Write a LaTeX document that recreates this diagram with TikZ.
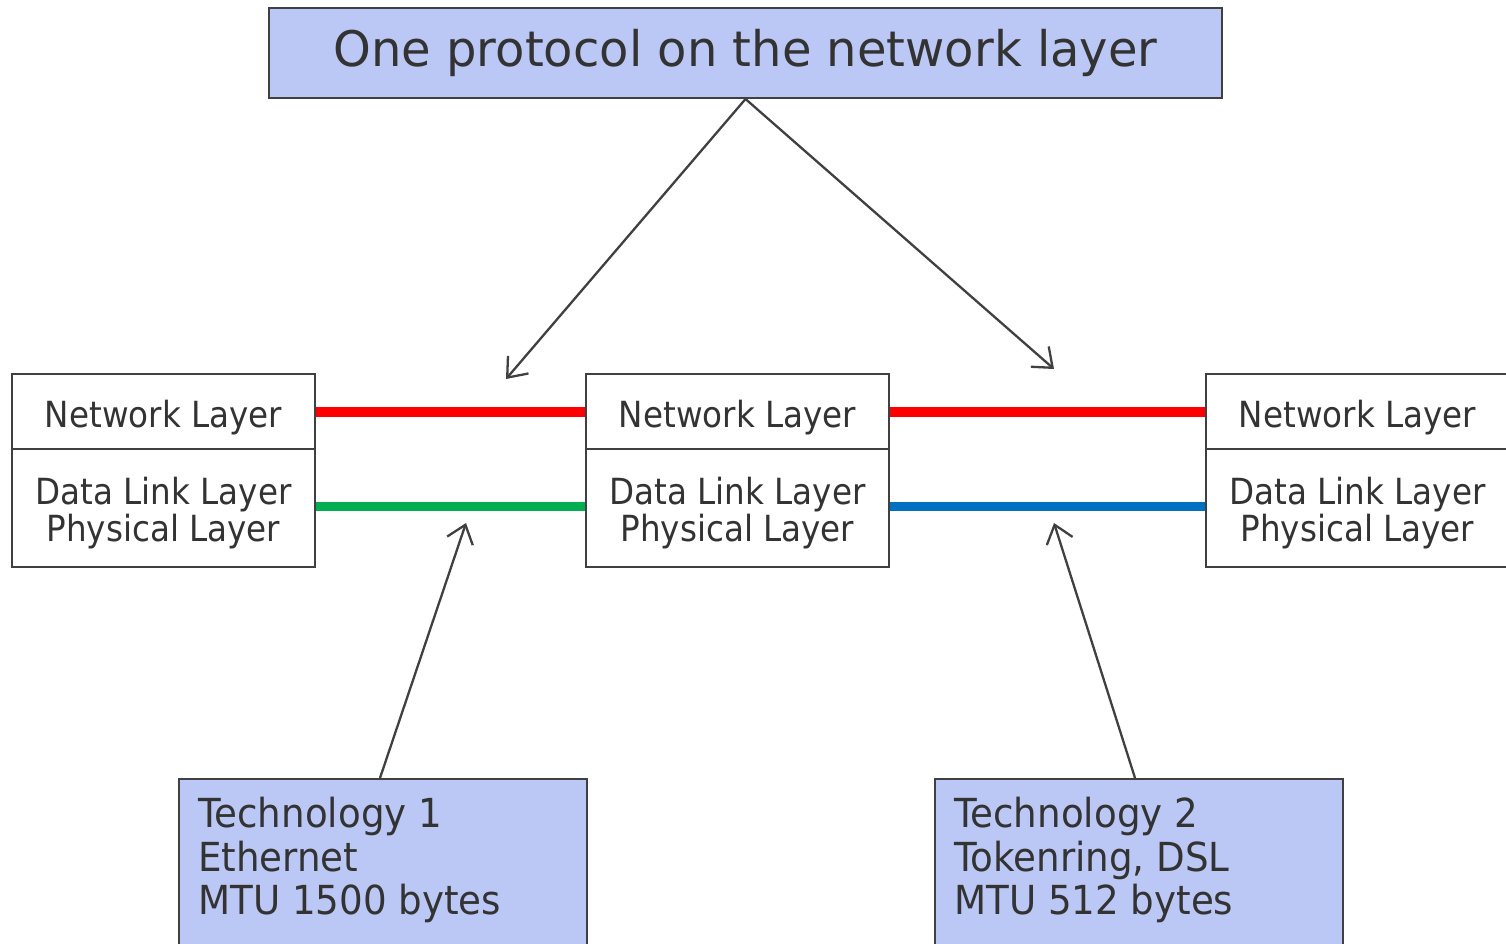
\documentclass[tikz,border=0pt]{standalone}
\usepackage{fontspec}
\setmainfont{DejaVu Sans}
\newfontfamily\stackfont[FakeStretch=0.905]{DejaVu Sans}
\newfontfamily\techfont[FakeStretch=0.93]{DejaVu Sans}
\newfontfamily\titlefont[FakeStretch=0.98]{DejaVu Sans}
\usetikzlibrary{arrows.meta}
\definecolor{fillb}{RGB}{187,199,244}
\definecolor{ink}{RGB}{51,51,51}
\definecolor{edge}{RGB}{64,64,64}
\definecolor{lnred}{RGB}{255,0,0}
\definecolor{lngreen}{RGB}{0,176,80}
\definecolor{lnblue}{RGB}{0,112,192}
\newcommand{\firststrut}{\rule{0pt}{38pt}}
\begin{document}
\begin{tikzpicture}[x=1pt,y=-1pt,
  every node/.style={text=ink},
  titlebox/.style={draw=edge, line width=2pt, fill=fillb, minimum width=953pt, minimum height=90pt, font=\titlefont\fontsize{49}{56}\selectfont, inner sep=0pt},
  netbox/.style={draw=edge, line width=2pt, fill=white, minimum width=303pt, minimum height=75pt, font=\stackfont\fontsize{36}{37}\selectfont, inner sep=0pt, text height=40pt, text depth=9pt},
  dlbox/.style={draw=edge, line width=2pt, fill=white, minimum width=303pt, minimum height=118pt, font=\stackfont\fontsize{36}{37}\selectfont, align=center, inner sep=0pt},
  techbox/.style={draw=edge, line width=2pt, fill=fillb, minimum width=408pt, minimum height=200pt, anchor=north west, inner sep=0pt},
  techtext/.style={anchor=north west, align=left, inner sep=0pt, font=\techfont\fontsize{40}{43.5}\selectfont},
  arr/.style={draw=edge, line width=2.3pt, -{Straight Barb[length=17pt,width=27pt,line width=2.3pt]}},
  link/.style={line width=10pt}
]
\useasboundingbox (0,0) rectangle (1506,943);

\node[titlebox] (top) at (745.5,53) {One protocol on the network layer};

\node[netbox] (ln) at (163.5,411.5) {Network Layer};
\node[dlbox]  (ld) at (163.5,508) {\firststrut Data Link Layer\\Physical Layer};
\node[netbox] (mn) at (737.5,411.5) {Network Layer};
\node[dlbox]  (md) at (737.5,508) {\firststrut Data Link Layer\\Physical Layer};
\node[netbox] (rn) at (1357.5,411.5) {Network Layer};
\node[dlbox]  (rd) at (1357.5,508) {\firststrut Data Link Layer\\Physical Layer};

\draw[link, lnred] (ln.east) -- (mn.west);
\draw[link, lnred] (mn.east) -- (rn.west);
\draw[link, lngreen, line width=9pt] ([yshift=2pt]ld.east) -- ([yshift=2pt]md.west);
\draw[link, lnblue, line width=9pt] ([yshift=2pt]md.east) -- ([yshift=2pt]rd.west);

\node[techbox] (t1) at (178,778) {};
\node[techtext] (t1text) at (198,797) {Technology 1\\Ethernet\\MTU 1500 bytes};
\node[techbox] (t2) at (934,778) {};
\node[techtext] (t2text) at (954,797) {Technology 2\\Tokenring, DSL\\MTU 512 bytes};

\coordinate (a1) at (506,379);
\coordinate (a2) at (1054,369);
\coordinate (b1) at (466,523);
\coordinate (b2) at (1054,523);

\draw[arr] (top.south) -- (a1);
\draw[arr] (top.south) -- (a2);
\draw[arr] ([xshift=-3pt]t1.north) -- (b1);
\draw[arr] ([xshift=-4pt]t2.north) -- (b2);
\end{tikzpicture}
\end{document}
